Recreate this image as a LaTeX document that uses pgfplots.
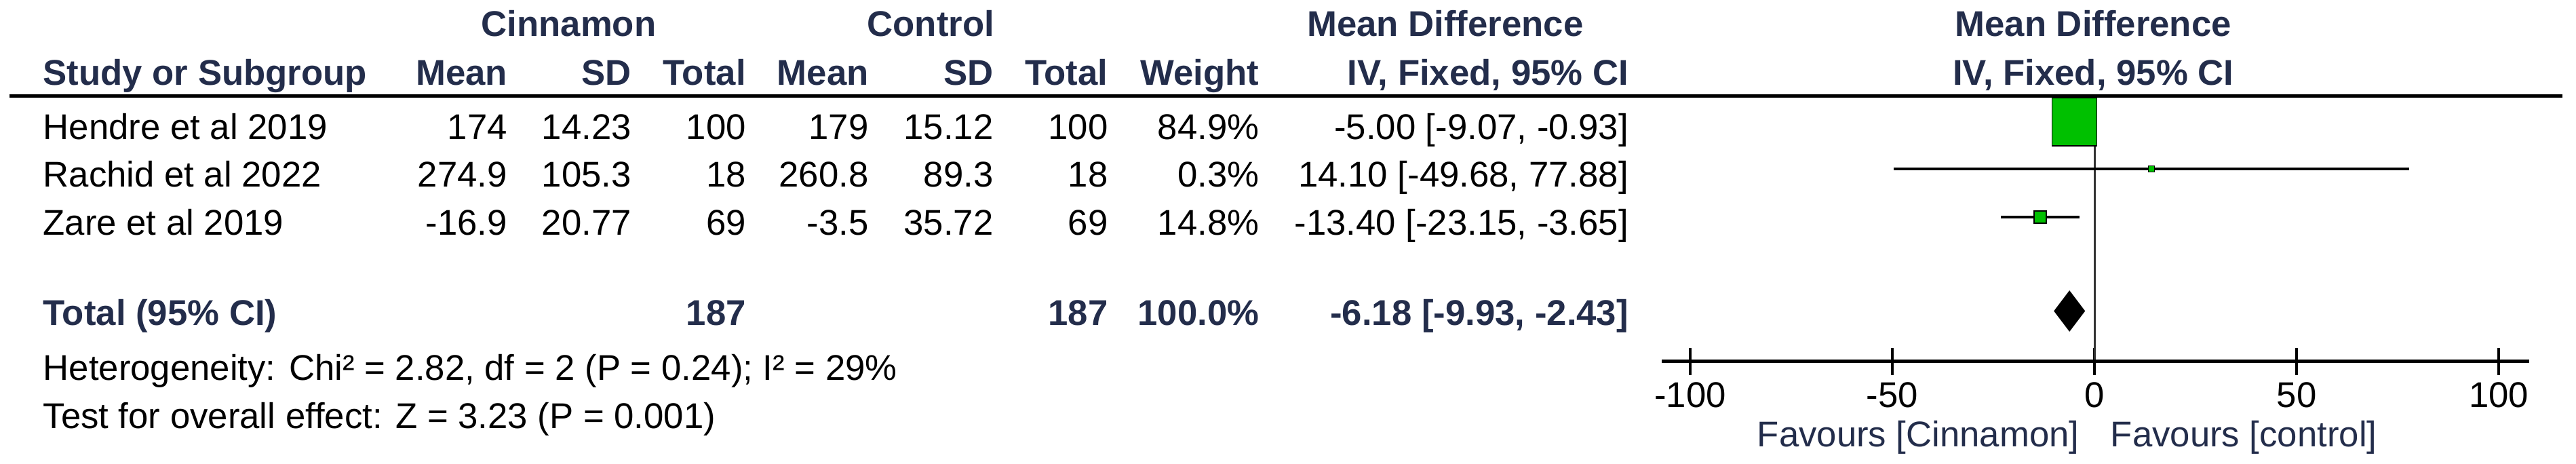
\documentclass[border=0pt]{standalone}
\usepackage{fontspec}
\setmainfont{Liberation Sans}
\usepackage{pgfplots}
\pgfplotsset{compat=1.18}
\definecolor{hdr}{RGB}{35,45,75}
\definecolor{boxgreen}{RGB}{0,192,0}
\definecolor{zeroline}{RGB}{51,51,51}
\newcommand{\fs}{\fontsize{15}{18}\selectfont}

\begin{document}
\begin{tikzpicture}
\useasboundingbox (0,0) rectangle (37.98cm,-6.84cm);

% table text, 1 unit = 1 px of the reference
\begin{scope}[x=0.01cm, y=-0.01cm, every node/.style={inner sep=0pt, font=\fs}]
  \begin{scope}[every node/.append style={font=\fs\bfseries, text=hdr}]
    \node[anchor=base] at (839,54) {Cinnamon};
    \node[anchor=base] at (1373,54) {Control};
    \node[anchor=base] at (2132,54) {Mean Difference};
    \node[anchor=base] at (3088,54) {Mean Difference};
    \node[anchor=base west] at (63,126) {Study or Subgroup};
    \node[anchor=base east] at (749,126) {Mean};
    \node[anchor=base east] at (932,126) {SD};
    \node[anchor=base east] at (1101,126) {Total};
    \node[anchor=base east] at (1282,126) {Mean};
    \node[anchor=base east] at (1466,126) {SD};
    \node[anchor=base east] at (1635,126) {Total};
    \node[anchor=base east] at (1858,126) {Weight};
    \node[anchor=base east] at (2403,126) {IV, Fixed, 95\% CI};
    \node[anchor=base] at (3088,126) {IV, Fixed, 95\% CI};
    % total row
    \node[anchor=base west] at (63,480) {Total (95\% CI)};
    \node[anchor=base east] at (1101,480) {187};
    \node[anchor=base east] at (1635,480) {187};
    \node[anchor=base east] at (1858,480) {100.0\%};
    \node[anchor=base east] at (2403,480) {-6.18 [-9.93, -2.43]};
  \end{scope}
  \draw[line width=1.42pt] (14,141.5) -- (3780,141.5);

  \foreach \name/\ma/\sa/\na/\mb/\sb/\nb/\w/\ci/\yy in {
      Hendre et al 2019/174/14.23/100/179/15.12/100/84.9/{-5.00 [-9.07, -0.93]}/206,
      Rachid et al 2022/274.9/105.3/18/260.8/89.3/18/0.3/{14.10 [-49.68, 77.88]}/276,
      Zare et al 2019/-16.9/20.77/69/-3.5/35.72/69/14.8/{-13.40 [-23.15, -3.65]}/347} {
    \node[anchor=base west] at (63,\yy) {\name};
    \node[anchor=base east] at (749,\yy) {\ma};
    \node[anchor=base east] at (932,\yy) {\sa};
    \node[anchor=base east] at (1101,\yy) {\na};
    \node[anchor=base east] at (1282,\yy) {\mb};
    \node[anchor=base east] at (1466,\yy) {\sb};
    \node[anchor=base east] at (1635,\yy) {\nb};
    \node[anchor=base east] at (1858,\yy) {\w\%};
    \node[anchor=base east] at (2403,\yy) {\ci};
  }

  \node[anchor=base west] at (63,561) {Heterogeneity: Chi² = 2.82, df = 2 (P = 0.24); I² = 29\%};
  \node[anchor=base west] at (63,632) {Test for overall effect: Z = 3.23 (P = 0.001)};

  \node[anchor=base east, text=hdr] at (3068,659) {Favours [Cinnamon]};
  \node[anchor=base west, text=hdr] at (3113,659) {Favours [control]};
\end{scope}

\begin{axis}[
  at={(24.503cm,-5.325cm)}, anchor=south west,
  scale only axis, width=12.784cm, height=3.905cm,
  xmin=-107, xmax=107.5, ymin=-532.5, ymax=-142,
  axis x line*=bottom, axis y line=none,
  x axis line style={-, line width=1.42pt},
  xtick={-100,-50,0,50,100}, xticklabels={-100,-50,0,50,100},
  tick align=center, major tick length=0.4cm,
  every tick/.style={black, line width=1.14pt},
  xticklabel style={font=\fs, anchor=base, inner sep=0pt, yshift=-0.475cm},
  clip=false,
]
% line of no effect
\addplot[zeroline, line width=0.85pt] coordinates {(0,-144) (0,-530)};
% confidence intervals
\addplot[black, line width=1.14pt] coordinates {(-9.07,-179.5) (-0.93,-179.5)};
\addplot[black, line width=1.14pt] coordinates {(-49.68,-249) (77.88,-249)};
\addplot[black, line width=1.14pt] coordinates {(-23.15,-320) (-3.65,-320)};
% study weights as boxes
\addplot[only marks, mark=square*, mark size=9.39pt,
  mark options={draw=none, fill=boxgreen, yscale=1.076}] coordinates {(-5.00,-179.5)};
\addplot[only marks, mark=square*, mark size=1.28pt,
  mark options={draw=none, fill=boxgreen}] coordinates {(14.10,-249)};
\addplot[only marks, mark=square*, mark size=2.56pt,
  mark options={draw=none, fill=boxgreen}] coordinates {(-13.40,-320)};
% pooled estimate
\addplot[fill=black, draw=black, line width=0.3pt] coordinates
  {(-9.93,-458.5) (-6.18,-429) (-2.43,-458.5) (-6.18,-488)} -- cycle;
\end{axis}
\end{tikzpicture}
\end{document}
